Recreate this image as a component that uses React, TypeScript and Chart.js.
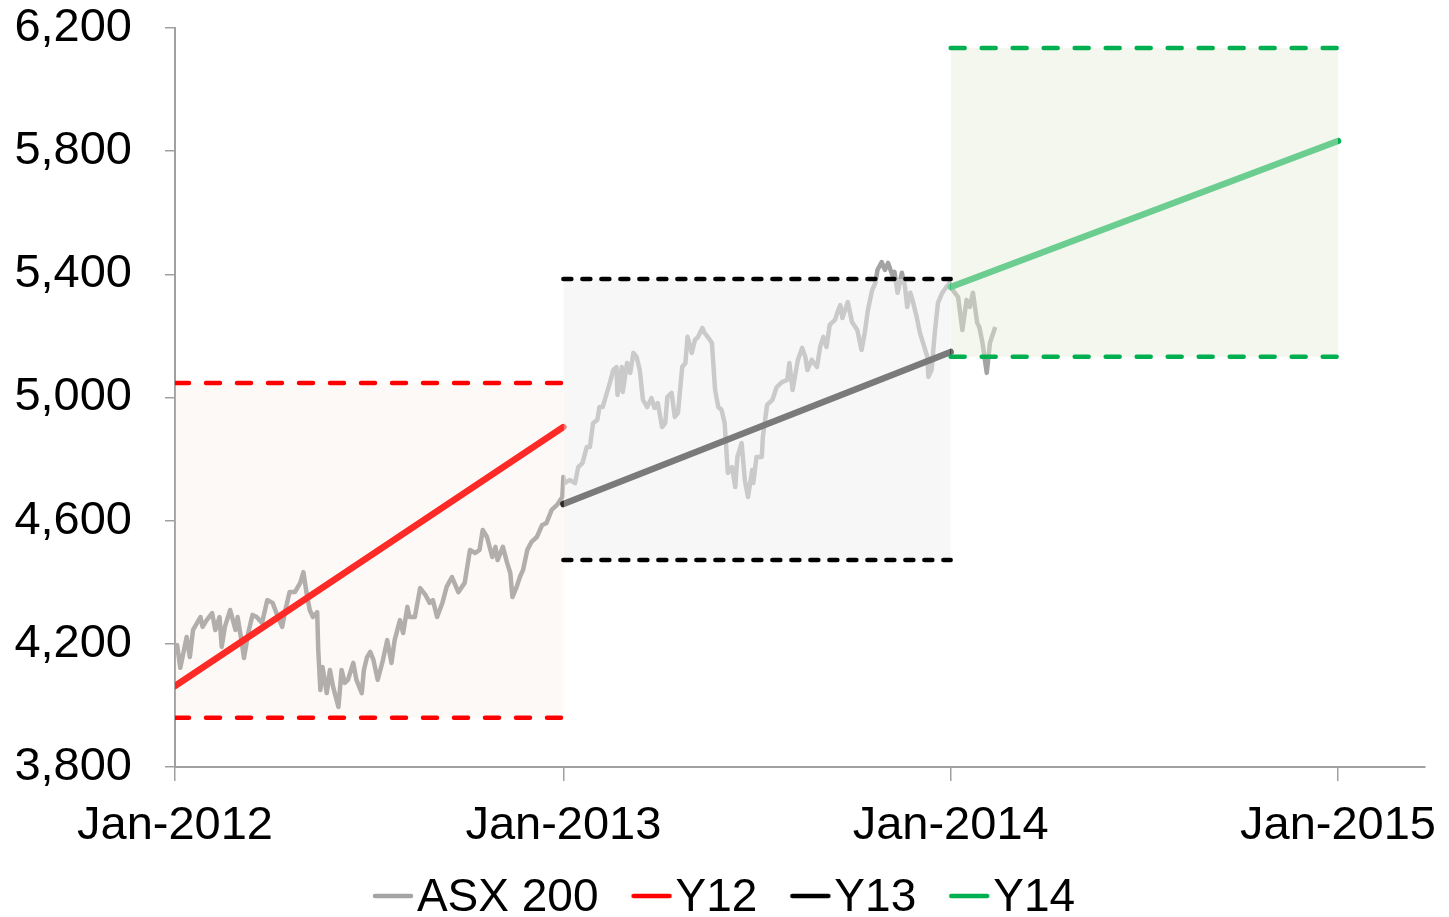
import React, { useEffect, useRef } from 'react';
import { Chart, registerables } from 'chart.js';

Chart.register(...registerables);

const FONT = "'Liberation Sans', Arial, sans-serif";

// x axis: days since 1 Jan 2012
const xTickDays = [0, 366, 731, 1096];
const xTickLabels = ['Jan-2012', 'Jan-2013', 'Jan-2014', 'Jan-2015'];
const xMaxDay = 1178;
const yMin = 3800;
const yMax = 6200;
const yStep = 400;

// ASX 200 index
const asxDays = [
  0, 2, 5, 11, 14, 17, 24, 26, 30, 35, 38, 42, 44, 47, 52, 57, 59, 63, 65, 69, 73, 77, 82, 87, 92, 97, 101, 104, 108, 113,
  118, 121, 124, 127, 130, 134, 135, 137, 139, 143, 146, 149, 154, 157, 160, 163, 168, 171, 176, 178, 181, 184, 187, 191,
  196, 200, 204, 207, 212, 215, 219, 221, 226, 231, 236, 240, 243, 247, 252, 256, 261, 267, 273, 278, 283, 287, 290, 294,
  299, 302, 304, 309, 313, 316, 318, 322, 325, 328, 332, 336, 341, 346, 350, 355, 360, 365, 366, 367, 372, 377, 380, 384,
  388, 391, 394, 398, 400, 403, 407, 410, 413, 416, 417, 421, 422, 426, 429, 432, 435, 438, 441, 445, 449, 452, 455, 459,
  462, 464, 468, 471, 474, 478, 481, 483, 487, 490, 493, 497, 499, 502, 506, 509, 512, 515, 518, 521, 525, 528, 530, 534,
  537, 540, 544, 545, 548, 553, 554, 558, 563, 567, 572, 577, 579, 582, 587, 591, 594, 596, 600, 605, 608, 611, 614, 617,
  622, 625, 627, 629, 634, 638, 643, 647, 650, 653, 657, 660, 662, 666, 669, 672, 676, 678, 681, 685, 688, 690, 693, 695,
  699, 702, 705, 709, 710, 713, 716, 719, 723, 727, 730, 733, 738, 742, 746, 749, 752, 756, 758, 761, 765, 768, 773,
];
const asxValues = [
  4164, 4196, 4122, 4222, 4157, 4245, 4287, 4255, 4278, 4300, 4245, 4287, 4190, 4255, 4310, 4245, 4287, 4203, 4154, 4235,
  4294, 4287, 4268, 4342, 4333, 4287, 4255, 4310, 4368, 4368, 4398, 4433, 4365, 4310, 4287, 4303, 4180, 4050, 4125, 4040,
  4115, 4060, 3995, 4115, 4073, 4083, 4138, 4083, 4040, 4115, 4157, 4174, 4148, 4083, 4148, 4212, 4138, 4212, 4277, 4235,
  4320, 4287, 4287, 4381, 4359, 4333, 4342, 4287, 4333, 4385, 4417, 4368, 4398, 4505, 4495, 4505, 4570, 4547, 4482, 4515,
  4472, 4515, 4463, 4430, 4352, 4385, 4417, 4440, 4505, 4531, 4547, 4586, 4592, 4635, 4651, 4677, 4742, 4722, 4732, 4722,
  4774, 4787, 4839, 4839, 4917, 4927, 4969, 4969, 5015, 5050, 5089, 5099, 5008, 5099, 5018, 5112, 5080, 5145, 5132, 5089,
  4992, 4969, 4998, 4966, 4982, 4904, 4917, 5002, 5015, 4937, 4950, 5099, 5112, 5197, 5145, 5187, 5197, 5226, 5210, 5197,
  5177, 5024, 4969, 4960, 4917, 4755, 4774, 4709, 4807, 4852, 4732, 4677, 4765, 4722, 4807, 4807, 4872, 4976, 4992, 5034,
  5050, 5057, 5112, 5024, 5122, 5161, 5132, 5089, 5122, 5099, 5164, 5197, 5164, 5236, 5252, 5284, 5300, 5258, 5310, 5245,
  5219, 5154, 5210, 5284, 5349, 5372, 5414, 5440, 5414, 5437, 5398, 5408, 5340, 5405, 5359, 5294, 5340, 5317, 5261, 5210,
  5177, 5132, 5067, 5089, 5210, 5307, 5340, 5359, 5372, 5349, 5326, 5219, 5317, 5294, 5340, 5242, 5229, 5177, 5080, 5177,
  5229,
];

// Yearly targets
const periodNames = ['Y12', 'Y13', 'Y14'];
const periodStartDay = [0, 366, 731];
const periodEndDay = [366, 731, 1096];
const trendStart = [4063, 4654, 5359];
const trendEnd = [4904, 5148, 5833];
const bandHigh = [5047, 5385, 6135];
const bandLow = [3960, 4472, 5132];

// styles
const asxColor = '#a3a3a3';
const periodColors = ['#ff0000', '#000000', '#00b050'];
const bandFills = ['rgba(245,224,208,0.19)', 'rgba(239,239,239,0.51)', 'rgba(230,238,219,0.47)'];
const dashPatterns = [[14, 17], [8, 11], [14, 17]];

function makeMarker(color: string, width: number): HTMLCanvasElement {
  const c = document.createElement('canvas');
  c.width = 90;
  c.height = 20;
  const g = c.getContext('2d')!;
  g.strokeStyle = color;
  g.lineWidth = width;
  g.lineCap = 'round';
  g.beginPath();
  g.moveTo(48, 8);
  g.lineTo(84, 8);
  g.stroke();
  return c;
}

export default function App() {
  const ref = useRef<HTMLCanvasElement | null>(null);

  useEffect(() => {
    if (!ref.current) return;
    const datasets: any[] = [];
    datasets.push({
      label: 'ASX 200',
      data: asxDays.map((d, i) => ({ x: d, y: asxValues[i] })),
      borderColor: asxColor,
      borderWidth: 4.5,
      pointRadius: 0,
      tension: 0,
      borderJoinStyle: 'round',
      fill: false,
      order: 3,
    });
    periodNames.forEach((name, i) => {
      datasets.push({
        label: name,
        data: [
          { x: periodStartDay[i], y: trendStart[i] },
          { x: periodEndDay[i], y: trendEnd[i] },
        ],
        borderColor: periodColors[i],
        borderWidth: 6.5,
        borderCapStyle: 'round',
        pointRadius: 0,
        fill: false,
        order: 2,
      });
      datasets.push({
        label: name + ' range',
        data: [
          { x: periodStartDay[i], y: bandHigh[i] },
          { x: periodEndDay[i], y: bandHigh[i] },
        ],
        borderColor: 'transparent',
        borderWidth: 0,
        backgroundColor: bandFills[i],
        pointRadius: 0,
        fill: { value: bandLow[i] },
        order: 1,
      });
      [bandHigh[i], bandLow[i]].forEach((v, k) => {
        datasets.push({
          label: name + (k === 0 ? ' high' : ' low'),
          data: [
            { x: periodStartDay[i], y: v },
            { x: periodEndDay[i], y: v },
          ],
          borderColor: periodColors[i],
          borderWidth: 4.5,
          borderDash: dashPatterns[i],
          borderCapStyle: 'round',
          pointRadius: 0,
          fill: false,
          order: 0,
        });
      });
    });

    const legendNames = ['ASX 200', ...periodNames];
    const legendColors = [asxColor, ...periodColors];
    const legendItems = legendNames.map((n, i) => ({
      text: n,
      fillStyle: legendColors[i],
      strokeStyle: legendColors[i],
      lineWidth: 0,
      hidden: false,
      pointStyle: makeMarker(legendColors[i], 4.5),
      fontColor: '#000',
      datasetIndex: i === 0 ? 0 : 1 + (i - 1) * 4,
    }));

    const chart = new Chart(ref.current, {
      type: 'line',
      data: { datasets },
      options: {
        animation: false,
        responsive: false,
        events: [],
        layout: { padding: { left: 0, right: 24, top: 28, bottom: 0 } },
        plugins: {
          tooltip: { enabled: false },
          filler: { drawTime: 'beforeDatasetDraw', propagate: false },
          legend: {
            position: 'bottom',
            labels: {
              usePointStyle: true,
              pointStyleWidth: 44,
              padding: 10,
              color: '#000',
              font: { family: FONT, size: 46 },
              generateLabels: () => legendItems as any,
            },
          },
        },
        scales: {
          x: {
            type: 'linear',
            min: 0,
            max: xMaxDay,
            afterBuildTicks: (s: any) => {
              s.ticks = xTickDays.map((v) => ({ value: v }));
            },
            afterFit: (s: any) => {
              s.height = 98;
              s.paddingLeft = 0;
              s.paddingRight = 0;
            },
            ticks: {
              autoSkip: false,
              maxRotation: 0,
              padding: 17,
              color: '#000',
              font: { family: FONT, size: 47 },
              callback: (_v: any, idx: number) => xTickLabels[idx],
            },
            grid: {
              drawOnChartArea: false,
              drawTicks: true,
              tickLength: 14,
              color: '#a0a0a0',
              lineWidth: 1.5,
            },
            border: { display: true, color: '#a0a0a0', width: 2 },
          },
          y: {
            type: 'linear',
            min: yMin,
            max: yMax,
            afterFit: (s: any) => {
              s.width = 175;
              s.paddingTop = 0;
              s.paddingBottom = 0;
            },
            ticks: {
              stepSize: yStep,
              padding: 33,
              color: '#000',
              font: { family: FONT, size: 47 },
              callback: (v: any) => Number(v).toLocaleString('en-US'),
            },
            grid: {
              drawOnChartArea: false,
              drawTicks: true,
              tickLength: 10,
              color: '#a0a0a0',
              lineWidth: 1.5,
            },
            border: { display: true, color: '#a0a0a0', width: 2 },
          },
        },
      } as any,
    });
    return () => chart.destroy();
  }, []);

  return (
    <div style={{ position: 'fixed', left: 0, top: 0, width: 1449, height: 917, overflow: 'hidden', background: '#fff' }}>
      <canvas ref={ref} width={1449} height={931} style={{ display: 'block' }} />
    </div>
  );
}
